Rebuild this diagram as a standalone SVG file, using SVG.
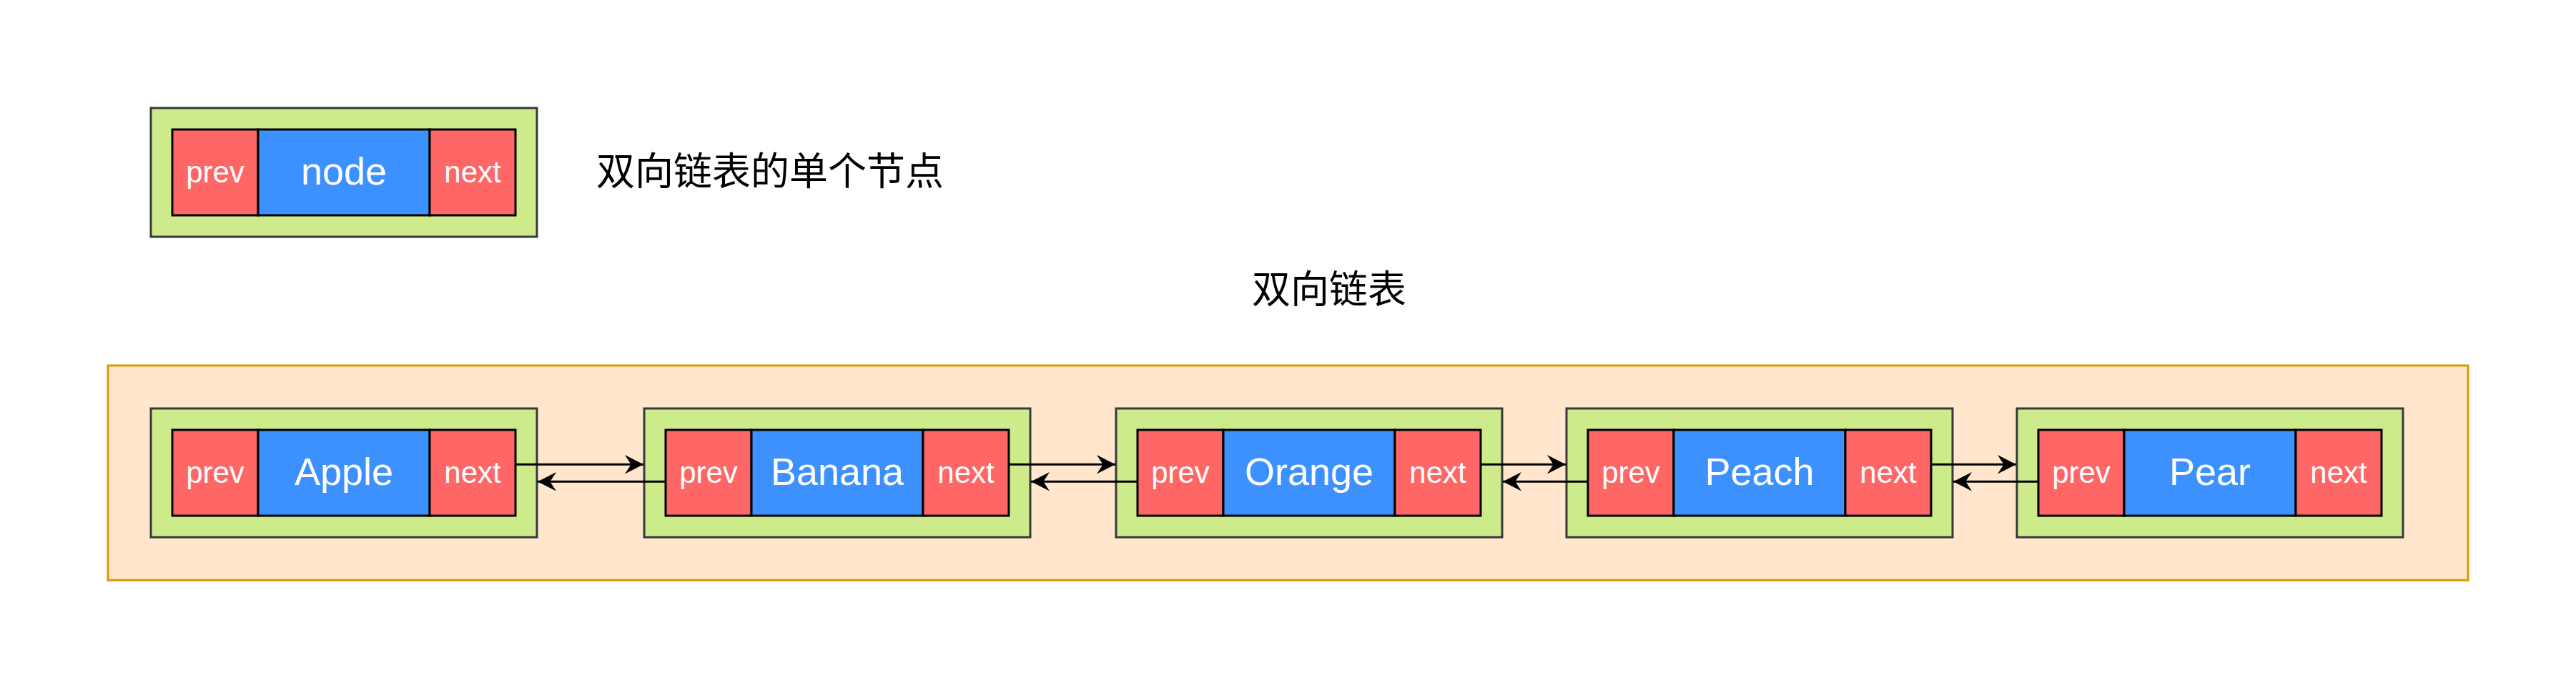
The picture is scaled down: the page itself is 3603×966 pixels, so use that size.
<svg xmlns="http://www.w3.org/2000/svg" width="3603" height="966" viewBox="0 0 3603 966">
<style>
.outer{fill:#cdeb8b;stroke:#36393d;stroke-width:3}
.ptr{fill:#ff6666;stroke:#000;stroke-width:3}
.val{fill:#3d91ff;stroke:#000;stroke-width:3}
.pt{font-family:"Liberation Sans",Arial,sans-serif;font-size:42px;fill:#fff;text-anchor:middle}
.vt{font-family:"Liberation Sans",Arial,sans-serif;font-size:54px;fill:#fff;text-anchor:middle}
.cn{font-family:"Liberation Sans","Noto Sans CJK SC",sans-serif;font-size:54px;fill:#000}
.edge{stroke:#000;stroke-width:3;fill:none}
</style>
<defs>
<marker id="arr" markerUnits="userSpaceOnUse" markerWidth="30" markerHeight="30" viewBox="-28 -15 30 30" refX="0" refY="0" orient="auto">
<path d="M0,0 L-26,-13.3 L-17.3,0 L-26,13.3 Z" fill="#000"/>
</marker>
</defs>
<rect width="3603" height="966" fill="#fff"/>
<g id="single-node">
<rect class="outer" x="211" y="151" width="540" height="180"/>
<rect class="ptr" x="241" y="181" width="120" height="120"/>
<rect class="val" x="361" y="181" width="240" height="120"/>
<rect class="ptr" x="601" y="181" width="120" height="120"/>
<text class="pt" x="301" y="255">prev</text>
<text class="vt" x="481" y="258">node</text>
<text class="pt" x="661" y="255">next</text>
</g>
<g id="single-node-label">
<text class="cn" x="834" y="259">双向链表的单个节点</text>
</g>
<g id="list-title">
<text class="cn" x="1859" y="424" text-anchor="middle">双向链表</text>
</g>
<g id="container">
<rect x="151" y="511" width="3301" height="300" fill="#ffe6cc" stroke="#d79b00" stroke-width="3"/>
</g>
<g id="node-apple">
<rect class="outer" x="211" y="571" width="540" height="180"/>
<rect class="ptr" x="241" y="601" width="120" height="120"/>
<rect class="val" x="361" y="601" width="240" height="120"/>
<rect class="ptr" x="601" y="601" width="120" height="120"/>
<text class="pt" x="301" y="675">prev</text>
<text class="vt" x="481" y="678">Apple</text>
<text class="pt" x="661" y="675">next</text>
</g>
<g id="node-banana">
<rect class="outer" x="901" y="571" width="540" height="180"/>
<rect class="ptr" x="931" y="601" width="120" height="120"/>
<rect class="val" x="1051" y="601" width="240" height="120"/>
<rect class="ptr" x="1291" y="601" width="120" height="120"/>
<text class="pt" x="991" y="675">prev</text>
<text class="vt" x="1171" y="678">Banana</text>
<text class="pt" x="1351" y="675">next</text>
</g>
<g id="node-orange">
<rect class="outer" x="1561" y="571" width="540" height="180"/>
<rect class="ptr" x="1591" y="601" width="120" height="120"/>
<rect class="val" x="1711" y="601" width="240" height="120"/>
<rect class="ptr" x="1951" y="601" width="120" height="120"/>
<text class="pt" x="1651" y="675">prev</text>
<text class="vt" x="1831" y="678">Orange</text>
<text class="pt" x="2011" y="675">next</text>
</g>
<g id="node-peach">
<rect class="outer" x="2191" y="571" width="540" height="180"/>
<rect class="ptr" x="2221" y="601" width="120" height="120"/>
<rect class="val" x="2341" y="601" width="240" height="120"/>
<rect class="ptr" x="2581" y="601" width="120" height="120"/>
<text class="pt" x="2281" y="675">prev</text>
<text class="vt" x="2461" y="678">Peach</text>
<text class="pt" x="2641" y="675">next</text>
</g>
<g id="node-pear">
<rect class="outer" x="2821" y="571" width="540" height="180"/>
<rect class="ptr" x="2851" y="601" width="120" height="120"/>
<rect class="val" x="2971" y="601" width="240" height="120"/>
<rect class="ptr" x="3211" y="601" width="120" height="120"/>
<text class="pt" x="2911" y="675">prev</text>
<text class="vt" x="3091" y="678">Pear</text>
<text class="pt" x="3271" y="675">next</text>
</g>
<g id="connectors">
<path class="edge" d="M721,649.3 H900" marker-end="url(#arr)"/>
<path class="edge" d="M931,673.3 H752" marker-end="url(#arr)"/>
<path class="edge" d="M1411,649.3 H1560" marker-end="url(#arr)"/>
<path class="edge" d="M1591,673.3 H1442" marker-end="url(#arr)"/>
<path class="edge" d="M2071,649.3 H2190" marker-end="url(#arr)"/>
<path class="edge" d="M2221,673.3 H2102" marker-end="url(#arr)"/>
<path class="edge" d="M2701,649.3 H2820" marker-end="url(#arr)"/>
<path class="edge" d="M2851,673.3 H2732" marker-end="url(#arr)"/>
</g>
</svg>
